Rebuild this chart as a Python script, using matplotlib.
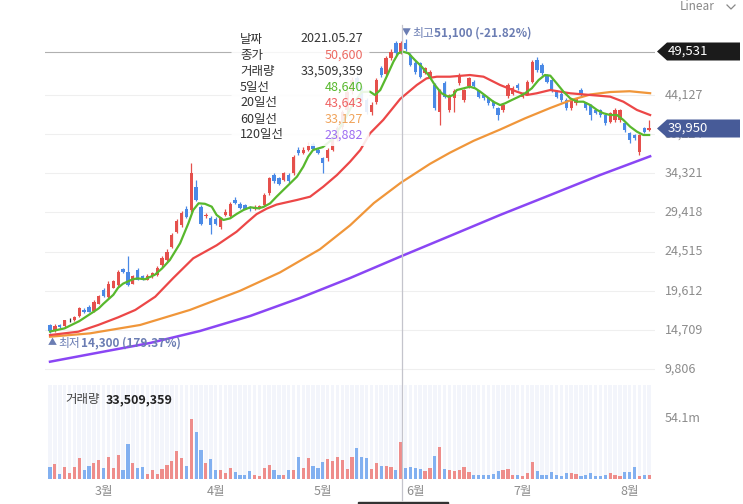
import matplotlib.pyplot as plt
from matplotlib.patches import Polygon, Rectangle, FancyBboxPatch
from matplotlib.lines import Line2D
import numpy as np

plt.rcParams['font.family'] = ['Noto Sans CJK KR', 'DejaVu Sans']

W, H = 743, 504

# daily OHLC in thousand won, 2021-02-10 .. 2021-08-06 (trading days)
opens = [15.3, 14.6, 15.3, 15.2, 15.9, 15.9, 16.4, 17.2, 17.6, 17.1,
         18.0, 19.7, 18.8, 20.0, 20.3, 22.3, 22.0, 20.5, 22.2, 21.4,
         21.0, 21.4, 21.6, 22.8, 23.4, 25.1, 27.0, 27.8, 29.9, 29.7,
         32.6, 30.1, 29.0, 28.7, 28.6, 27.6, 29.1, 29.0, 31.0, 30.5,
         30.3, 30.0, 29.8, 30.0, 30.35, 31.8, 34.1, 33.7, 33.5, 34.1,
         34.3, 37.2, 36.9, 37.3, 38.0, 37.3, 36.2, 36.2, 37.3, 38.6,
         40.1, 42.2, 44.6, 46.2, 45.0, 43.5, 42.0, 43.3, 47.5, 46.8,
         48.7, 50.6, 49.55, 50.6, 49.1, 48.1, 48.1, 46.85, 46.4, 45.4,
         42.0, 45.6, 42.25, 43.8, 45.6, 43.5, 45.2, 45.8, 44.6, 44.1,
         43.7, 43.3, 42.45, 42.25, 44.0, 44.3, 45.4, 43.9, 44.3, 45.8,
         48.5, 47.9, 46.6, 46.0, 44.55, 44.3, 43.5, 42.45, 43.1, 44.75,
         43.1, 42.9, 42.25, 42.25, 41.6, 40.8, 41.0, 41.0, 40.6, 39.33,
         39.1, 37.0, 39.95, 39.7]
highs = [15.5, 15.4, 15.5, 16.0, 16.2, 16.5, 17.6, 17.5, 17.8, 18.4,
         19.1, 19.9, 20.8, 21.0, 22.2, 22.5, 23.9, 21.6, 22.4, 21.6,
         21.7, 22.0, 22.7, 23.9, 24.8, 26.8, 28.6, 29.6, 30.2, 35.6,
         33.5, 30.4, 29.4, 29.0, 28.9, 28.9, 29.8, 30.7, 31.3, 30.7,
         30.5, 30.2, 30.3, 30.4, 31.8, 33.9, 34.4, 33.9, 34.5, 34.3,
         36.6, 37.6, 37.6, 38.2, 38.3, 37.5, 36.4, 37.5, 38.8, 40.2,
         42.3, 44.8, 46.4, 46.5, 45.3, 43.8, 43.2, 46.3, 47.8, 49.0,
         49.9, 50.9, 50.9, 51.1, 49.4, 48.4, 48.3, 47.6, 47.2, 45.6,
         44.9, 45.9, 44.3, 44.9, 46.9, 44.9, 46.4, 46.0, 44.8, 44.3,
         43.9, 43.5, 42.6, 43.1, 45.6, 45.2, 45.6, 44.5, 46.0, 48.5,
         48.9, 48.1, 46.8, 46.4, 44.7, 44.5, 43.7, 43.7, 43.8, 45.0,
         43.3, 43.0, 42.4, 42.4, 41.8, 42.0, 42.5, 42.4, 40.8, 39.5,
         39.2, 39.3, 40.1, 41.0]
lows = [14.3, 14.5, 14.9, 15.1, 15.7, 15.8, 16.3, 16.8, 16.9, 17.0,
        17.9, 18.8, 18.7, 19.9, 20.2, 21.8, 20.2, 20.4, 20.9, 20.9,
        20.9, 21.2, 21.5, 22.6, 23.3, 25.0, 26.8, 27.6, 28.7, 29.5,
        30.8, 27.9, 28.7, 26.7, 27.8, 27.4, 29.0, 28.9, 30.5, 29.9,
        29.8, 29.6, 29.7, 29.8, 30.2, 31.6, 33.1, 32.9, 33.3, 33.1,
        34.1, 36.6, 36.7, 37.1, 37.2, 36.7, 34.3, 35.9, 37.1, 38.4,
        39.9, 42.0, 44.3, 44.6, 43.2, 41.8, 41.6, 43.0, 46.4, 46.6,
        48.5, 49.1, 49.3, 49.7, 47.7, 46.8, 46.2, 46.7, 46.2, 42.3,
        40.4, 43.7, 42.0, 42.0, 45.4, 43.3, 45.0, 45.0, 43.7, 43.5,
        42.9, 42.5, 41.0, 42.0, 43.8, 44.1, 44.8, 43.7, 44.1, 45.6,
        47.0, 46.6, 45.6, 44.5, 43.7, 43.3, 42.3, 42.3, 42.9, 43.9,
        42.3, 41.0, 41.7, 41.4, 40.4, 40.6, 40.8, 40.8, 39.5, 38.08,
        38.5, 36.6, 39.4, 39.6]
closes = [14.6, 15.2, 15.1, 15.9, 15.9, 16.3, 17.4, 17.0, 17.0, 18.2,
          18.9, 19.0, 20.5, 20.8, 22.0, 22.0, 20.3, 21.4, 21.0, 21.0,
          21.5, 21.8, 22.5, 23.7, 24.5, 26.6, 28.3, 29.3, 28.9, 34.3,
          31.0, 28.0, 29.1, 27.9, 28.0, 28.7, 29.5, 30.5, 30.6, 30.0,
          29.9, 29.8, 30.1, 30.2, 31.6, 33.7, 33.3, 33.0, 34.3, 33.3,
          36.4, 36.8, 37.3, 37.8, 37.4, 36.9, 35.6, 37.3, 38.5, 40.0,
          42.0, 44.5, 46.0, 45.0, 43.5, 42.0, 42.9, 46.0, 46.6, 48.7,
          49.55, 49.35, 50.6, 49.9, 47.9, 47.0, 46.4, 47.45, 47.05, 42.5,
          44.75, 43.9, 44.1, 44.6, 46.6, 44.75, 46.2, 45.2, 43.9, 43.7,
          43.1, 42.7, 41.6, 42.87, 45.4, 44.96, 44.96, 44.34, 45.8, 48.3,
          47.25, 46.85, 45.8, 44.75, 43.9, 43.5, 42.45, 43.5, 43.6, 44.1,
          42.45, 41.6, 41.85, 41.6, 40.6, 41.85, 42.25, 42.25, 39.75, 38.5,
          38.7, 39.1, 39.53, 39.95]
# volume in millions of shares
volumes = [10.8, 13.8, 4.5, 10.8, 5.4, 10.8, 18.8, 8.4, 12.0, 14.4,
           17.3, 9.9, 19.7, 9.9, 21.8, 8.4, 31.7, 14.4, 9.9, 10.8,
           4.5, 7.8, 4.5, 9.0, 12.9, 16.4, 25.4, 18.8, 12.0, 53.8,
           42.2, 26.3, 14.4, 17.9, 8.4, 8.4, 5.4, 9.9, 6.0, 3.6,
           3.6, 6.9, 3.9, 2.4, 9.9, 12.3, 7.8, 3.6, 3.6, 8.4,
           8.4, 19.7, 9.9, 18.8, 11.4, 9.9, 15.0, 17.9, 16.4, 19.7,
           16.7, 9.0, 19.7, 27.8, 19.7, 18.8, 9.0, 14.4, 11.4, 12.0,
           10.8, 8.4, 33.5, 9.9, 10.8, 9.9, 9.0, 6.9, 9.9, 20.3,
           28.4, 9.0, 8.4, 6.9, 8.4, 10.8, 6.6, 3.6, 3.6, 3.6,
           3.6, 4.8, 7.5, 7.8, 9.0, 3.6, 3.6, 3.0, 5.4, 15.0,
           7.5, 3.6, 3.6, 6.6, 3.6, 3.0, 5.4, 5.4, 4.5, 3.0,
           3.9, 5.4, 3.0, 2.4, 3.6, 5.4, 3.6, 3.0, 6.6, 6.0,
           10.8, 3.0, 3.6, 3.6]

# moving average lines (trading-day index, thousand won)
ma5_day = [0, 3, 6, 8, 10, 11, 13, 14, 15, 17, 18, 19.5, 21.5, 23, 24.6, 26.7,
           28.4, 29.4, 30.5, 31.8, 33.2, 34.2, 35.6, 37, 38.3, 39.7, 41.1, 42.8,
           43.8, 45.2, 46.5, 47.9, 49.3, 50.7, 52, 53, 54, 56, 58, 60, 62, 64,
           65.7, 66.7, 67.8, 69.1, 70.5, 71.5, 72.5, 73.6, 74.9, 76.3, 77.7, 79,
           80.4, 81.8, 82.8, 83.5, 84.9, 86.2, 87.3, 88.3, 89.7, 91, 92.4, 93.4,
           94.8, 96.2, 97.5, 98.9, 100.3, 101.6, 102.7, 104, 105.4, 106.8, 108.2,
           109.5, 110.9, 112.3, 113.6, 115, 116.4, 117.7, 119.1, 120.5, 121.8, 123]
ma5_val = [14.5, 14.9, 15.8, 16.6, 17.4, 18.0, 19.1, 20.0, 20.5, 21.05, 21.15,
           21.05, 21.6, 22.4, 23.46, 25.55, 28.05, 29.72, 30.56, 30.5, 30.14,
           29.1, 28.47, 28.68, 29.22, 29.72, 30.06, 29.93, 30.1, 30.56, 31.39,
           32.23, 33.06, 33.9, 35.15, 36.4, 37.24, 37.6, 38.6, 40.5, 42.8, 44.5,
           44.54, 44.13, 44.75, 46.42, 48.3, 49.35, 49.55, 49.35, 48.51, 47.68,
           46.63, 45.38, 44.34, 43.9, 44.13, 44.75, 44.96, 45.17, 44.96, 44.55,
           43.9, 43.29, 42.87, 43.08, 43.5, 43.9, 44.34, 44.96, 46.0, 46.63,
           46.55, 45.6, 44.55, 43.71, 43.29, 43.29, 42.87, 42.25, 41.84, 41.62,
           41.62, 41.0, 40.16, 39.53, 39.12, 39.12]
ma20_day = [0, 5.8, 9.9, 14, 17.5, 21.6, 25.3, 29.4, 34.2, 38.3, 40.5, 42.4,
            44.5, 46.5, 50.7, 53.4, 56.1, 58.9, 61.6, 63.7, 65.7, 68.4, 71.9,
            75.3, 77.3, 79.4, 82.1, 86.2, 89, 92.4, 95.8, 97.9, 99.9, 102.7,
            106.8, 110.9, 115, 117.7, 120.5, 123.2]
ma20_val = [14.06, 14.48, 15.32, 16.28, 17.2, 18.86, 21.2, 23.67, 25.3, 27.0,
            28.2, 29.2, 29.9, 30.4, 30.98, 31.39, 32.64, 34.1, 35.77, 37.24,
            39.33, 41.0, 43.64, 45.38, 46.21, 46.42, 46.42, 46.63, 46.42, 45.38,
            44.55, 44.13, 44.34, 44.75, 44.34, 44.13, 43.92, 43.29, 42.25, 41.62]
ma60_day = [0, 8.2, 18.5, 28.7, 39, 47.2, 55.4, 61.6, 66.5, 72, 78, 82.1, 87,
            92.4, 97.5, 102.7, 107, 111, 115, 119, 123.2]
ma60_val = [13.85, 14.27, 15.32, 17.2, 19.6, 21.9, 24.8, 27.8, 30.6, 33.13,
            35.5, 36.9, 38.4, 39.8, 41.2, 42.5, 43.5, 44.2, 44.5, 44.6, 44.35]
ma120_day = [0, 10.3, 20.5, 30.8, 41.1, 51.3, 61.6, 71.9, 82.1, 92.4, 102.7,
             112.9, 123.2]
ma120_val = [10.72, 11.9, 13.06, 14.57, 16.45, 18.7, 21.2, 23.88, 26.47, 29.1,
             31.6, 34.1, 36.45]

price_ticks = [9806, 14709, 19612, 24515, 29418, 34321, 39224, 44127]
month_labels = ['3월', '4월', '5월', '6월', '7월', '8월']
month_days = [11, 34, 56, 75, 97, 119]

info_labels = ['날짜', '종가', '거래량', '5일선', '20일선', '60일선', '120일선']
info_values = ['2021.05.27', '50,600', '33,509,359', '48,640', '43,643', '33,127', '23,882']

RED = '#e5504c'
BLUE = '#4a89e6'
C5, C20, C60, C120 = '#58b82d', '#ec4747', '#f0963a', '#8a46f4'
GRAY = '#8c8c8c'
SLATE = '#6b7db3'


def fx(x):
    return x / W


def fy(y):
    return 1 - y / H


fig = plt.figure(figsize=(W / 100, H / 100), dpi=100)
ax = fig.add_axes([fx(45), fy(380), 610 / W, 365 / H])
axv = fig.add_axes([fx(45), fy(479), 610 / W, 94 / H])

days = np.arange(len(closes))
o = np.array(opens) * 1000
hi = np.array(highs) * 1000
lo = np.array(lows) * 1000
c = np.array(closes) * 1000
cols = np.where(c > o, RED, np.where(c < o, BLUE, '#333333'))
vcols = np.where(c >= o, '#ee8d8b', '#82b0f0')

xmin, xmax = -1.03, 124.2

# price panel
for t in price_ticks:
    ax.axhline(t, color='#efefef', lw=0.8, zorder=0)
    ax.text(1.016, t, f'{t:,}', transform=ax.get_yaxis_transform(),
            ha='left', va='center', fontsize=9, color=GRAY)
ax.vlines(days, lo, hi, colors=cols, lw=0.9, zorder=2)
ax.bar(days, np.maximum(np.abs(c - o), 80), bottom=np.minimum(o, c),
       width=0.68, color=cols, zorder=3)
ax.plot(np.array(ma120_day), np.array(ma120_val) * 1000, color=C120, lw=1.8, zorder=4)
ax.plot(np.array(ma60_day), np.array(ma60_val) * 1000, color=C60, lw=1.6, zorder=4)
ax.plot(np.array(ma20_day), np.array(ma20_val) * 1000, color=C20, lw=1.6, zorder=4)
ax.plot(np.array(ma5_day), np.array(ma5_val) * 1000, color=C5, lw=1.6, zorder=5)
ax.axhline(49531, color='#b0b0b0', lw=0.8, zorder=1)
ax.set_xlim(xmin, xmax)
ax.set_ylim(8428, 54148)
ax.axis('off')

# high / low markers
fig.text(fx(402), fy(33), '▼', fontsize=6.5, color=SLATE, va='center')
fig.text(fx(412), fy(33), '최고', fontsize=8.5, color=SLATE, va='center')
fig.text(fx(434), fy(33), '51,100 (-21.82%)', fontsize=8.5, color=SLATE,
         va='center', fontweight='bold')
fig.text(fx(48), fy(343), '▲', fontsize=6.5, color=SLATE, va='center')
fig.text(fx(58), fy(343), '최저', fontsize=8.5, color=SLATE, va='center')
fig.text(fx(81), fy(343), '14,300 (179.37%)', fontsize=8.5, color=SLATE,
         va='center', fontweight='bold')

# volume panel
axv.bar(days, np.full(len(days), 84.3), width=0.72, color='#f3f5fb', zorder=0)
axv.bar(days, volumes, width=0.66, color=vcols, zorder=2)
axv.set_xlim(xmin, xmax)
axv.set_ylim(0, 84.3)
axv.axis('off')
axv.text(1.016, 54.1, '54.1m', transform=axv.get_yaxis_transform(),
         ha='left', va='center', fontsize=9, color=GRAY)

fig.text(fx(65), fy(400), '거래량', fontsize=9, color='#444444', va='center')
fig.text(fx(106), fy(400), '33,509,359', fontsize=9, color='#222222',
         va='center', fontweight='bold')

for lab, d in zip(month_labels, month_days):
    xp = 45 + (d - xmin) / (xmax - xmin) * 610
    fig.text(fx(xp), fy(491), lab, fontsize=9, color=GRAY, ha='center', va='center')

# crosshair
xc = 45 + (72 - xmin) / (xmax - xmin) * 610 + 1.5
fig.add_artist(Line2D([fx(xc), fx(xc)], [fy(25), fy(500)], color='#c4c4cc', lw=0.9, zorder=6))
fig.add_artist(Rectangle((fx(358), fy(504)), 90 / W, 2 / H, color='#333333', zorder=6))


def price_tag(y, txt, fc):
    pts = [(657, y), (667, y - 9), (740, y - 9), (740, y + 9), (667, y + 9)]
    fig.add_artist(Polygon([(fx(a), fy(b)) for a, b in pts], closed=True,
                           fc=fc, ec='none', zorder=7))
    fig.text(fx(668), fy(y), txt, fontsize=9.5, color='white', va='center',
             ha='left', zorder=8)


price_tag(51.5, '49,531', '#1b1b1b')
price_tag(128.5, '39,950', '#475b98')

# info box
fig.add_artist(FancyBboxPatch((fx(233), fy(145)), 135 / W, 117 / H,
                              boxstyle='round,pad=0.002', fc='white', ec='none',
                              alpha=0.88, zorder=8))
val_cols = ['#333333', '#ec6a62', '#333333', C5, '#ef6262', '#f0a35a', '#9d6cf2']
for i, (lab, val) in enumerate(zip(info_labels, info_values)):
    yy = 39 + i * 16
    fig.text(fx(240), fy(yy), lab, fontsize=9, color='#333333', va='center', zorder=9)
    fig.text(fx(363), fy(yy), val, fontsize=9, color=val_cols[i], va='center',
             ha='right', zorder=9)

# scale selector
fig.text(fx(680), fy(7), 'Linear', fontsize=8.5, color='#888888', va='center')
fig.add_artist(Line2D([fx(727), fx(731), fx(735)], [fy(5), fy(9), fy(5)],
                      color='#888888', lw=0.9))

fig.savefig('out.png', dpi=100)
